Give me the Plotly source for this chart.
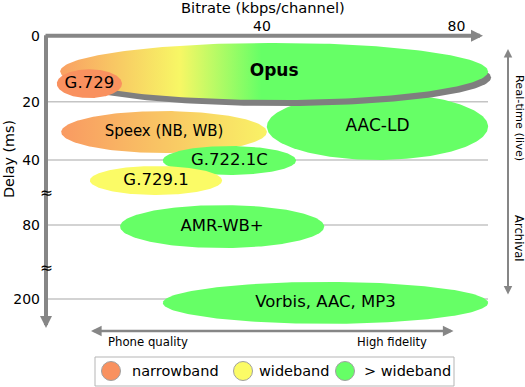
import numpy as np
import plotly.graph_objects as go

# ---------------- data ----------------
codecs = ["AAC-LD", "Speex (NB, WB)", "G.722.1C", "G.729.1", "AMR-WB+",
          "Vorbis, AAC, MP3", "Opus", "G.729"]
bitrate_lo = [41.0, -1.3, 19.6, 4.6, 10.8, 19.6, -1.5, -2.2]     # kbps/channel
bitrate_hi = [86.5, 41.0, 47.0, 31.8, 52.8, 86.5, 86.5, 11.2]
delay_lo = [17.4, 23.2, 35.2, 43.7, 67.7, 172.4, 2.1, 10.1]      # ms
delay_hi = [40.0, 37.6, 49.2, 61.5, 117.3, 240.5, 19.5, 18.9]
bands = ["full", "narrow-wide", "full", "wide", "full", "full", "all", "narrow"]

bitrate_ticks = [40, 80]
delay_ticks = [0, 20, 40, 80, 200]
delay_tick_labels = ["0", "20", "40", "80", "200"]
delay_breaks = [60, 150]          # where the axis is broken (ms)

legend_labels = ["narrowband", "wideband", "> wideband"]

# ---------------- style / layout ----------------
W, H = 525, 387
FONT = "DejaVu Sans"
GRAY = "#868686"
ORANGE = "#f9915f"
YELLOW = "#fbfb66"
GREEN = "#66ff66"
legend_colors = [ORANGE, YELLOW, GREEN]

band_fill = {
    "narrow": dict(color=ORANGE),
    "wide": dict(color=YELLOW),
    "full": dict(color=GREEN),
    "narrow-wide": dict(scale=[[0, "#f99a62"], [1, "#f9f266"]]),
    "all": dict(scale=[[0, "#f9a063"], [0.28, "#f7f765"], [0.47, GREEN], [1, GREEN]]),
}
label_sizes = {"Opus": 17, "Speex (NB, WB)": 15, "AAC-LD": 17}
DEFAULT_LABEL_SIZE = 16.5

# broken delay axis: ms -> axis position
AXIS_MS = [0, 20, 40, 80, 200, 300]
AXIS_POS = [0, 21.2, 40, 61.0, 84.8, 104.7]
def to_pos(ms):
    return np.interp(ms, AXIS_MS, AXIS_POS)

PX_PER_KBPS = 4.8625
PX_PER_POS = 3.1
X0_PX, Y0_PX = 67.5, 36.0
X_RANGE = [-X0_PX / PX_PER_KBPS, (W - X0_PX) / PX_PER_KBPS]
Y_RANGE = [(H - Y0_PX) / PX_PER_POS, -Y0_PX / PX_PER_POS]

def paper(x, y):
    return x / W, 1 - y / H

fig = go.Figure()
t = np.linspace(0, 2 * np.pi, 241)

def ellipse(cx, cy, rx, ry):
    return cx + rx * np.cos(t), cy + ry * np.sin(t)

label_x, label_y, label_txt, label_sz = [], [], [], []
for name, blo, bhi, dlo, dhi, band in zip(codecs, bitrate_lo, bitrate_hi,
                                           delay_lo, delay_hi, bands):
    y0, y1 = to_pos(dlo), to_pos(dhi)
    cx, cy = (blo + bhi) / 2, (y0 + y1) / 2
    rx, ry = (bhi - blo) / 2, (y1 - y0) / 2
    if name == "Opus":
        sx, sy = ellipse(cx + 3 / PX_PER_KBPS, cy + 6 / PX_PER_POS, rx, ry)
        fig.add_trace(go.Scatter(x=sx, y=sy, mode="lines", fill="toself",
                                 fillcolor="#7f7f7f", line=dict(width=0),
                                 hoverinfo="skip", showlegend=False))
    ex, ey = ellipse(cx, cy, rx, ry)
    f = band_fill[band]
    kw = dict(x=ex, y=ey, mode="lines", fill="toself", line=dict(width=0),
              hoverinfo="skip", showlegend=False)
    if "scale" in f:
        kw["fillgradient"] = dict(type="horizontal", colorscale=f["scale"])
    else:
        kw["fillcolor"] = f["color"]
    fig.add_trace(go.Scatter(**kw))
    label_x.append(cx)
    label_y.append(cy)
    label_txt.append("<b>Opus</b>" if name == "Opus" else name)
    label_sz.append(label_sizes.get(name, DEFAULT_LABEL_SIZE))

fig.add_trace(go.Scatter(x=label_x, y=label_y, text=label_txt, mode="text",
                         textposition="middle center",
                         textfont=dict(family=FONT, size=label_sz, color="black"),
                         hoverinfo="skip", showlegend=False))

shapes = []
# grid lines (behind)
for v in delay_ticks[1:]:
    shapes.append(dict(type="line", xref="paper", yref="y", layer="below",
                       x0=47 / W, x1=488 / W, y0=to_pos(v), y1=to_pos(v),
                       line=dict(color="#c4c4c4", width=1.5)))
# legend box and circles
bx0, by0 = paper(95, 357)
bx1, by1 = paper(454, 386)
shapes.append(dict(type="rect", xref="paper", yref="paper", x0=bx0, x1=bx1,
                   y0=by1, y1=by0, line=dict(color="#b5b5b5", width=1),
                   fillcolor="white", layer="above"))
legend_circle_x = [111, 243, 345]
legend_text_x = [130, 257, 362]
for cxp, col in zip(legend_circle_x, legend_colors):
    a0, b0 = paper(cxp - 9.5, 361.5)
    a1, b1 = paper(cxp + 9.5, 380.5)
    shapes.append(dict(type="circle", xref="paper", yref="paper",
                       x0=a0, x1=a1, y0=b1, y1=b0, fillcolor=col,
                       line=dict(color="#a0a0a0", width=1), layer="above"))

ann = []
def arrow(tip, tail, width, size, side="end"):
    x, y = paper(*tip)
    ann.append(dict(x=x, y=y, xref="paper", yref="paper", axref="pixel",
                    ayref="pixel", ax=tail[0] - tip[0], ay=tail[1] - tip[1],
                    text="", showarrow=True, arrowhead=2, startarrowhead=2,
                    arrowside=side, arrowwidth=width, arrowsize=size,
                    startarrowsize=size, arrowcolor=GRAY, standoff=0,
                    startstandoff=0))

arrow((483, 35.7), (44, 35.7), 4, 0.6)        # bitrate axis
arrow((46, 328), (46, 33.7), 4, 0.6)          # delay axis
arrow((508, 49), (508, 296), 2, 0.85, "end+start")
arrow((91, 331), (455, 331), 2.5, 0.85, "end+start")

def text(s, x, y, size, angle=0, xanchor="center"):
    px_, py_ = paper(x, y)
    ann.append(dict(x=px_, y=py_, xref="paper", yref="paper", text=s,
                    showarrow=False, textangle=angle, xanchor=xanchor,
                    yanchor="middle",
                    font=dict(family=FONT, size=size, color="black")))

text("Bitrate (kbps/channel)", 263, 8, 14.7)
text("Delay (ms)", 9, 159, 14.3, angle=-90)
text("Real-time (live)", 519, 118, 11.3, angle=90)
text("Archival", 519, 238, 11.6, angle=90)
text("Phone quality", 148, 342, 11.7)
text("High fidelity", 391.5, 342, 11.6)
for b in delay_breaks:
    yb = Y0_PX + to_pos(b) * PX_PER_POS
    text("≈", 46.5, yb, 15.5)
for s, xl in zip(legend_labels, legend_text_x):
    text(s, xl, 371, 14.5, xanchor="left")

fig.update_layout(
    width=W, height=H, autosize=False,
    margin=dict(l=0, r=0, t=0, b=0, pad=0),
    paper_bgcolor="white", plot_bgcolor="white",
    font=dict(family=FONT, color="black"),
    showlegend=False,
    xaxis=dict(range=X_RANGE, anchor="free", position=1 - 35.7 / H, side="top",
               tickvals=bitrate_ticks, ticks="", showgrid=False, zeroline=False,
               showline=False, tickfont=dict(family=FONT, size=14, color="black"),
               ticklabelstandoff=2, fixedrange=True),
    yaxis=dict(range=Y_RANGE, anchor="free", position=46 / W, side="left",
               tickvals=list(to_pos(delay_ticks)), ticktext=delay_tick_labels,
               ticks="", showgrid=False, zeroline=False, showline=False,
               tickfont=dict(family=FONT, size=14, color="black"),
               ticklabelstandoff=6, fixedrange=True),
    shapes=shapes, annotations=ann,
)

fig.write_html(
    "out.html",
    config={"displayModeBar": False},
    post_script="document.body.style.margin='0';document.body.style.padding='0';"
                "document.documentElement.style.overflow='hidden';",
)
